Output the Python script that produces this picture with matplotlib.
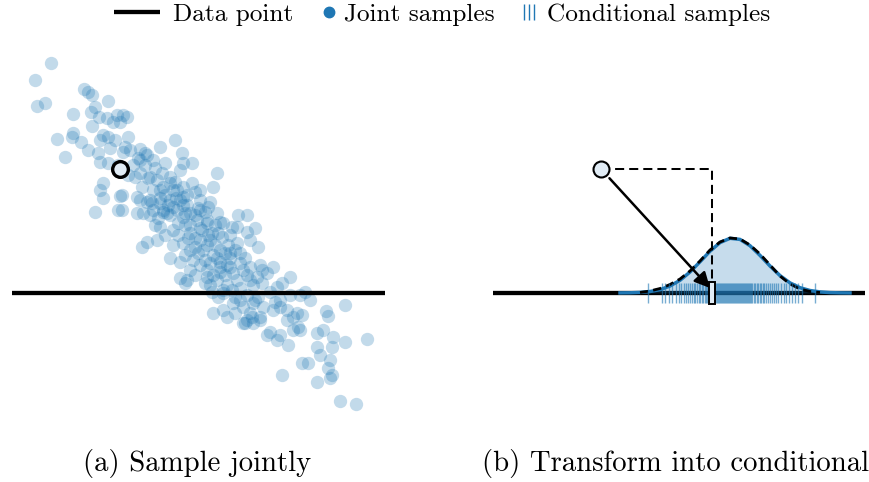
"""Sampling a conditional from a joint: (a) joint samples, (b) transform into conditional."""
import matplotlib
matplotlib.use("Agg")
import matplotlib.pyplot as plt
from matplotlib.lines import Line2D
from matplotlib.patches import Rectangle
import numpy as np

C_BLUE = "#1f77b4"
C_LIGHT = "#e1ecf5"
FONT = "cmr10"

# joint samples (x, height above the observed line)
joint_samples = [
    (51, 230), (35, 213), (37, 187), (45, 190), (84, 204), (88, 201), (92, 198), (108, 192),
    (73, 179), (95, 186), (91, 181), (99, 176), (107, 175), (117, 178), (123, 178), (127, 176),
    (113, 171), (120, 171), (92, 167), (73, 160), (72, 156), (81, 151), (57, 154), (88, 143),
    (65, 136), (103, 158), (108, 156), (115, 153), (128, 156), (100, 153), (110, 145), (125, 146),
    (123, 141), (140, 144), (145, 140), (100, 131), (108, 130), (138, 135),
    (98, 140), (103, 110), (100, 103), (103, 95), (120, 97), (95, 81), (118, 83), (153, 133),
    (160, 146), (175, 153), (182, 140), (165, 130), (180, 123), (135, 116), (142, 106), (148, 115),
    (157, 113), (160, 103), (170, 110), (177, 103), (183, 106), (140, 93), (150, 93), (160, 90),
    (170, 93), (180, 93), (143, 80), (153, 83), (167, 80), (177, 83), (185, 80), (137, 80),
    (147, 138), (183, 130), (192, 130), (217, 120), (140, 120), (150, 116), (170, 116), (153, 103),
    (163, 106), (173, 103), (192, 110), (195, 101), (213, 106), (137, 96), (147, 91), (160, 95),
    (183, 96), (200, 93), (210, 91), (150, 78), (163, 81), (190, 80), (200, 83), (208, 86),
    (217, 80), (197, 73), (207, 73), (220, 71), (238, 78), (247, 78), (237, 66), (122, 83),
    (122, 98),
    (152, 90), (163, 83), (173, 86), (187, 88), (198, 85), (183, 76), (223, 70), (207, 70),
    (160, 66), (173, 63), (190, 60), (202, 63), (212, 60), (222, 56), (230, 58), (247, 61),
    (255, 65), (250, 53), (258, 46), (147, 51), (157, 53), (173, 48), (183, 50), (195, 46),
    (207, 48), (220, 43), (230, 40), (240, 40), (237, 50), (142, 46), (170, 35), (180, 31),
    (193, 33), (205, 33), (217, 35), (227, 28), (240, 30), (250, 26), (260, 28), (190, 23),
    (207, 23), (220, 21), (233, 20), (247, 18), (257, 16), (267, 20), (187, 13), (180, 15),
    (217, 13), (237, 13), (253, 8), (262, 10), (210, 8), (227, 8), (223, 3), (212, 1),
    (185, 10), (200, 28), (210, 30), (220, 26), (230, 26), (262, 23), (273, 26), (207, 16),
    (250, 13), (277, 6), (290, 16), (282, 10), (223, 0), (235, -4), (247, -2), (258, -4),
    (270, 1), (290, -2), (300, -2), (213, -20), (223, -17), (233, -10), (243, -14), (253, -10),
    (263, -14), (275, -9), (280, -14), (252, -24), (245, -30), (260, -27), (273, -17), (287, -17),
    (297, -20), (287, -27), (293, -37), (270, -39), (280, -42), (300, -37), (235, -20), (227, -24),
    (345, -12), (326, -18), (328, -23), (310, -7), (305, 1), (280, -7), (293, -24), (302, -22),
    (298, -34), (267, -42), (277, -47), (288, -52), (323, -37), (317, -40), (333, -44), (367, -46),
    (345, -49), (332, -54), (317, -54), (320, -62), (330, -67), (302, -70), (308, -70), (328, -75),
    (282, -82), (317, -89), (330, -85), (332, -82), (340, -108), (356, -111), (250, -20), (260, -24),
    (247, -27), (253, -30), (243, -30),
    (185, 68), (195, 55), (203, 43), (213, 38), (190, 43), (200, 65), (178, 58), (210, 53),
    (220, 31), (228, 48), (195, 78), (205, 81), (215, 68), (183, 88), (170, 78), (165, 98),
    (140, 133), (130, 143), (175, 111), (187, 98), (200, 103), (213, 18), (225, 18), (240, 5),
    (232, 3), (205, 10), (218, -4), (240, -7), (255, -7), (200, 53), (215, 48), (190, 68),
    (230, 35), (245, 35), (185, 38), (165, 58), (155, 68), (235, 43), (195, 18), (243, 23),
    (178, 70), (188, 55), (198, 40), (208, 58), (218, 60), (225, 40), (232, 66), (176, 95),
    (168, 88), (158, 75), (162, 120), (155, 125), (145, 128), (133, 128), (118, 128), (128, 118),
]
point_a = (120, 124)

# conditional density (blue) and its reference curve (dashed)
dens_x = [620, 630, 640, 650, 660, 670, 680, 690, 700, 710, 720, 730, 740,
          750, 760, 770, 780, 790, 800, 810, 820, 830, 840, 850]
dens_y = [0.1, 0.2, 0.6, 1.5, 3.3, 7.0, 12.7, 21.0, 31.2, 41.8, 50.4, 54.7, 53.6,
          47.3, 37.6, 27.0, 17.4, 10.1, 5.3, 2.5, 1.1, 0.4, 0.15, 0.05]
ref_x = [640, 650, 660, 670, 680, 690, 700, 710, 720, 730, 740, 750, 760,
         770, 780, 790, 800, 810, 820]
ref_y = [0.5, 2.0, 4.5, 8.5, 14.0, 22.0, 32.0, 43.0, 51.0, 55.0, 54.0, 48.0, 39.0,
         28.0, 17.0, 9.0, 4.0, 1.5, 0.5]
rug_x = [648, 662, 665, 669, 672, 676, 679, 681, 684, 686, 688, 690, 692, 694, 695, 697,
         699, 700, 702, 703, 705, 706, 707, 709, 711, 713, 714, 716, 717, 718, 719, 720,
         721, 722, 723, 724, 725, 726, 727, 728, 729, 730, 731, 732, 733, 734, 735, 736,
         737, 738, 739, 740, 741, 742, 743, 744, 745, 746, 747, 748, 749, 750, 751, 752,
         754, 755, 757, 758, 760, 761, 763, 764, 766, 768, 770, 772, 774, 776, 778, 781,
         784, 786, 789, 792, 795, 798, 802, 815]
point_b = (601, 124)
cond_value = 712.5


def panel_a(ax):
    pts = np.array(joint_samples)
    ax.scatter(pts[:, 0], pts[:, 1], s=92, color=C_BLUE, alpha=0.27, lw=0, zorder=2)
    ax.plot([12, 385], [0, 0], color="k", lw=3.1, solid_capstyle="butt", zorder=3)
    ax.plot(*point_a, "o", ms=11.3, mfc=C_LIGHT, mec="k", mew=2.4, zorder=4)
    ax.set_xlim(10, 390)
    ax.set_ylim(-127, 248)
    ax.axis("off")


def panel_b(ax):
    ax.plot([493, 865], [0, 0], color="k", lw=3.1, solid_capstyle="butt", zorder=1)
    ax.fill_between(dens_x, dens_y, 0, color=C_BLUE, alpha=0.25, lw=0, zorder=2)
    ax.plot(dens_x, dens_y, color=C_BLUE, lw=2.5, zorder=3)
    ax.plot(ref_x, ref_y, color="k", lw=2.0, ls=(0, (3.0, 1.8)), zorder=3.5)
    ax.vlines(rug_x, -10, 10, color=C_BLUE, alpha=0.6, lw=1.0, zorder=4)

    px, py = point_b
    ax.plot([px, cond_value, cond_value], [py, py, 11], color="k", lw=1.45,
            ls=(0, (4.5, 2.5)), zorder=5)
    ax.annotate("", xy=(cond_value - 2.5, 5), xytext=(px, py),
                arrowprops=dict(arrowstyle="-|>", color="k", lw=1.8,
                                mutation_scale=23, shrinkA=9, shrinkB=0),
                zorder=6)
    ax.add_patch(Rectangle((cond_value - 3, -11), 6, 22, facecolor=C_LIGHT,
                           edgecolor="k", lw=1.4, zorder=7))
    ax.plot(px, py, "o", ms=11.5, mfc=C_LIGHT, mec="k", mew=1.5, zorder=8)
    ax.set_xlim(490, 870)
    ax.set_ylim(-127, 248)
    ax.axis("off")


def legend_and_labels(fig):
    # overlay in pixel units for the legend row and captions
    lax = fig.add_axes([0, 0, 1, 1])
    lax.set_xlim(0, 870)
    lax.set_ylim(482, 0)
    lax.axis("off")
    kw = dict(family=FONT, fontsize=18.2, va="baseline", ha="left")

    lax.add_line(Line2D([114, 160], [12, 12], color="k", lw=3.1, solid_capstyle="butt"))
    lax.text(173, 20.5, "Data point", **kw)
    lax.plot(329, 12, "o", ms=7.5, color=C_BLUE)
    lax.text(344, 20.5, "Joint samples", **kw)
    lax.vlines([524, 529, 534], 4, 20, color=C_BLUE, lw=1.0)
    lax.text(547, 20.5, "Conditional samples", **kw)

    cap = dict(family=FONT, fontsize=20.7, va="baseline", ha="center")
    lax.text(197, 471, "(a) Sample jointly", **cap)
    lax.text(676, 471, "(b) Transform into conditional", **cap)


def main():
    fig = plt.figure(figsize=(8.7, 4.82), dpi=100)
    axA = fig.add_axes([10 / 870, 62 / 482, 380 / 870, 375 / 482])
    axB = fig.add_axes([490 / 870, 62 / 482, 380 / 870, 375 / 482])
    panel_a(axA)
    panel_b(axB)
    legend_and_labels(fig)
    fig.savefig("out.png", dpi=100)
    plt.close(fig)


if __name__ == "__main__":
    main()
